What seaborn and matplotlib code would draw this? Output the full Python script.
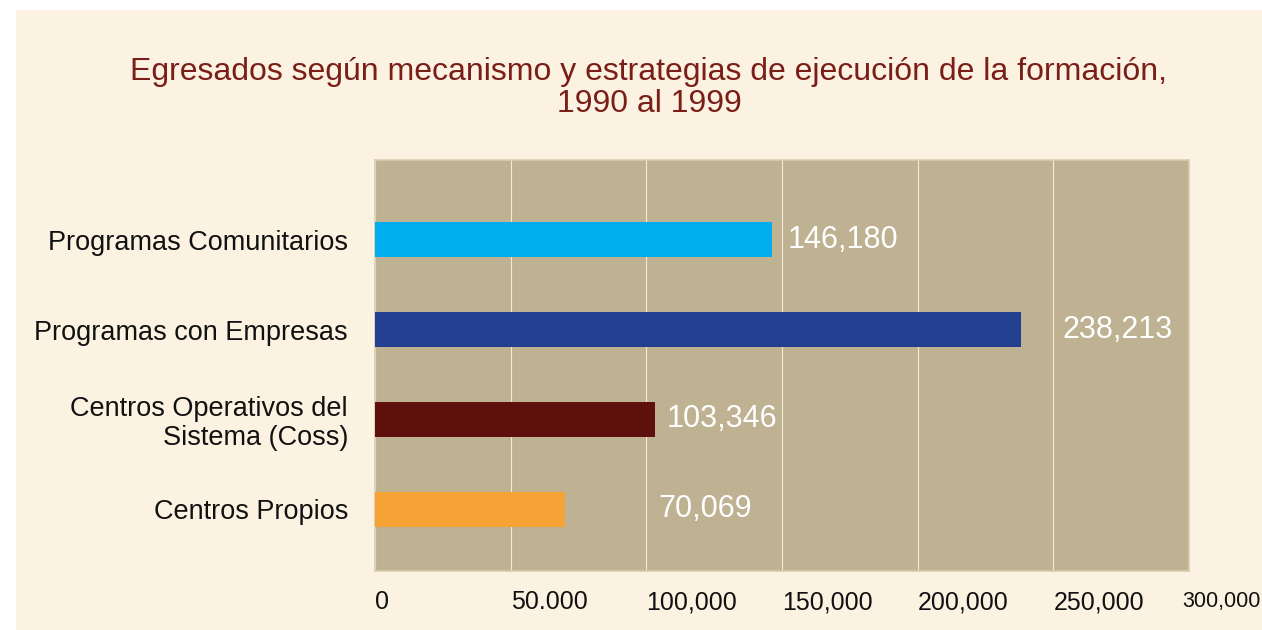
import matplotlib
matplotlib.use("Agg")
import matplotlib.pyplot as plt
from matplotlib.patches import Rectangle
import seaborn as sns
import pandas as pd

categories = ["Programas Comunitarios", "Programas con Empresas",
              "Centros Operativos del\nSistema (Coss)", "Centros Propios"]
values = [146180, 238213, 103346, 70069]
value_labels = ["146,180", "238,213", "103,346", "70,069"]
xticks = [0, 50000, 100000, 150000, 200000, 250000, 300000]
xtick_labels = ["0", "50.000", "100,000", "150,000", "200,000", "250,000", "300,000"]
title = "Egresados según mecanismo y estrategias de ejecución de la formación,\n1990 al 1999"

colors = ["#00AEEF", "#233F8F", "#5E100C", "#F5A334"]
label_offsets_pt = [11.5, 29.5, 8, 67]

sns.set_theme(style="white")
plt.rcParams["font.family"] = ["Liberation Sans", "DejaVu Sans"]

df = pd.DataFrame({"cat": categories, "val": values})

W, H = 1262, 630
fig = plt.figure(figsize=(W / 100, H / 100), dpi=100, facecolor="white")
fig.patches.append(Rectangle((16 / W, 0), 1 - 16 / W, 1 - 10 / H,
                             transform=fig.transFigure, facecolor="#FCF2E2",
                             edgecolor="none", zorder=-10))

ax = fig.add_axes([375 / W, 1 - 571 / H, (1189 - 375) / W, (571 - 160) / H])
ax.set_facecolor("#BFB292")

sns.barplot(data=df, y="cat", x="val", hue="cat", palette=colors, legend=False,
            orient="h", width=0.39, saturation=1, linewidth=0, ax=ax, zorder=3)

ax.set_xlim(0, 300000)
ax.set_ylim(3.69, -0.89)
ax.set_xlabel("")
ax.set_ylabel("")

# all but the last tick label as regular tick labels; the last one is smaller and nudged left
ax.set_xticks(xticks)
ax.set_xticklabels(xtick_labels[:-1] + [""], ha="left", fontsize=18, color="#111111")
ax.tick_params(axis="x", length=0, pad=14)
ax.annotate(xtick_labels[-1], xy=(xticks[-1], 0), xycoords=ax.get_xaxis_transform(),
            xytext=(-5, -14.5), textcoords="offset points", ha="left", va="top",
            fontsize=15.5, color="#111111", annotation_clip=False)

ax.tick_params(axis="y", length=0, pad=19.5, labelsize=19.5, labelcolor="#111111")
for lbl in ax.get_yticklabels():
    lbl.set_linespacing(1.15)

ax.grid(axis="x", color="#F3EBDA", linewidth=0.8, zorder=1)
ax.grid(axis="y", visible=False)
ax.set_axisbelow(True)
for s in ax.spines.values():
    s.set_visible(True)
    s.set_color("#D9CDAF")
    s.set_linewidth(1.2)

for i, (v, t) in enumerate(zip(values, value_labels)):
    ax.annotate(t, xy=(v, i), xytext=(label_offsets_pt[i], 0),
                textcoords="offset points", ha="left", va="center",
                color="white", fontsize=22, zorder=5)

fig.text(649 / W, 1 - 88 / H, title, ha="center", va="center",
         color="#7A1E18", fontsize=23, linespacing=1.05)

fig.savefig("out.png", dpi=100, facecolor=fig.get_facecolor())
